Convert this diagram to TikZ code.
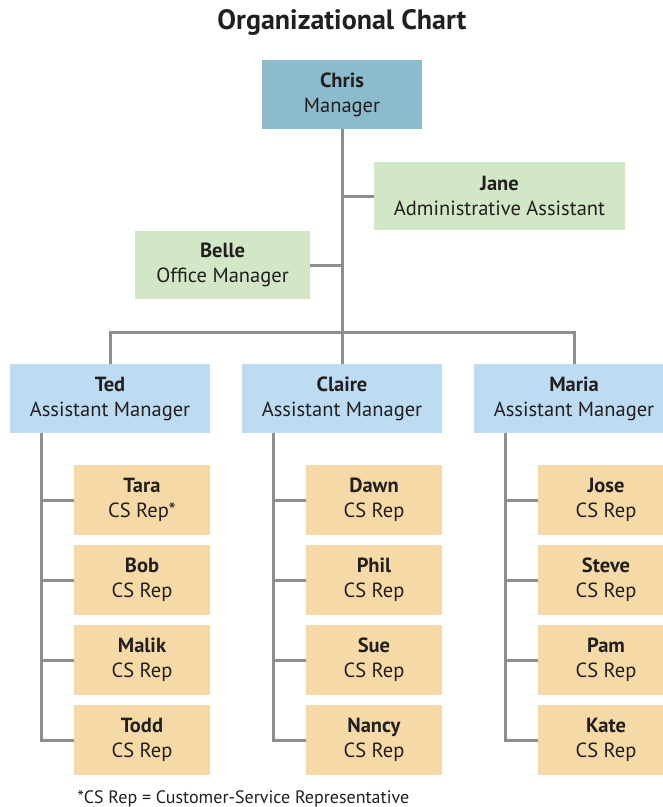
\documentclass[tikz,border=0pt]{standalone}
\usepackage{fontspec}
\setmainfont{PT Sans}
\definecolor{mgr}{HTML}{8BBBCC}
\definecolor{staff}{HTML}{D1E7C6}
\definecolor{asst}{HTML}{BDDBF1}
\definecolor{rep}{HTML}{F5DAA8}
\definecolor{wire}{HTML}{8E8E90}
\definecolor{ink}{HTML}{231F20}
\tikzset{
  box/.style={inner sep=0pt, align=center, text=ink,
    font=\fontsize{20.5}{25}\selectfont},
  chief/.style={box, fill=mgr, minimum width=160pt, minimum height=69pt},
  helper/.style={box, fill=staff, minimum height=68pt},
  lead/.style={box, fill=asst, minimum width=200pt, minimum height=69pt},
  repbox/.style={box, fill=rep, minimum width=136pt, minimum height=70pt},
  link/.style={draw=wire, line width=3pt}
}
\begin{document}
\begin{tikzpicture}[x=1pt,y=-1pt]
\path[use as bounding box] (0,0) rectangle (663,807);
\clip (0,0) rectangle (663,807);
% title
\node[text=ink, font=\fontsize{28}{32}\selectfont\bfseries, anchor=base] (title) at (342,29) {Organizational Chart};
% nodes
\node[chief] (chris) at (342,94.5) {\textbf{Chris}\\Manager};
\node[helper, minimum width=251pt] (jane) at (499.5,196) {\textbf{Jane}\\Administrative Assistant};
\node[helper, minimum width=175pt] (belle) at (222.5,265) {\textbf{Belle}\\Office Manager};
\node[lead] (ted) at (110,398.5) {\textbf{Ted}\\Assistant Manager};
\node[lead] (claire) at (342,398.5) {\textbf{Claire}\\Assistant Manager};
\node[lead] (maria) at (574,398.5) {\textbf{Maria}\\Assistant Manager};
\node[repbox] (tara) at (142,500) {\textbf{Tara}\\CS Rep*};
\node[repbox] (bob) at (142,580) {\textbf{Bob}\\CS Rep};
\node[repbox] (malik) at (142,660) {\textbf{Malik}\\CS Rep};
\node[repbox] (todd) at (142,740) {\textbf{Todd}\\CS Rep};
\node[repbox] (dawn) at (374,500) {\textbf{Dawn}\\CS Rep};
\node[repbox] (phil) at (374,580) {\textbf{Phil}\\CS Rep};
\node[repbox] (sue) at (374,660) {\textbf{Sue}\\CS Rep};
\node[repbox] (nancy) at (374,740) {\textbf{Nancy}\\CS Rep};
\node[repbox] (jose) at (606,500) {\textbf{Jose}\\CS Rep};
\node[repbox] (steve) at (606,580) {\textbf{Steve}\\CS Rep};
\node[repbox] (pam) at (606,660) {\textbf{Pam}\\CS Rep};
\node[repbox] (kate) at (606,740) {\textbf{Kate}\\CS Rep};
\node[text=ink, font=\fontsize{18}{20}\selectfont, anchor=base west] (note) at (74,803) {*CS Rep = Customer-Service Representative};
% connectors
\coordinate (bar) at (342,332);
\draw[link] (chris.south) -- (bar);
\draw[link] (jane.west) -- (jane.west -| chris.south);
\draw[link] (belle.east) -- (belle.east -| chris.south);
\draw[link] (ted.north) |- (bar) -| (maria.north);
\draw[link] (claire.north) -- (bar);
\coordinate (tedtrunk) at ([xshift=32pt]ted.south west);
\coordinate (clairetrunk) at ([xshift=32pt]claire.south west);
\coordinate (mariatrunk) at ([xshift=32pt]maria.south west);
\draw[link] (tedtrunk) |- (todd.west);
\draw[link] (tedtrunk |- tara.west) -- (tara.west);
\draw[link] (tedtrunk |- bob.west) -- (bob.west);
\draw[link] (tedtrunk |- malik.west) -- (malik.west);
\draw[link] (clairetrunk) |- (nancy.west);
\draw[link] (clairetrunk |- dawn.west) -- (dawn.west);
\draw[link] (clairetrunk |- phil.west) -- (phil.west);
\draw[link] (clairetrunk |- sue.west) -- (sue.west);
\draw[link] (mariatrunk) |- (kate.west);
\draw[link] (mariatrunk |- jose.west) -- (jose.west);
\draw[link] (mariatrunk |- steve.west) -- (steve.west);
\draw[link] (mariatrunk |- pam.west) -- (pam.west);
\end{tikzpicture}
\end{document}
